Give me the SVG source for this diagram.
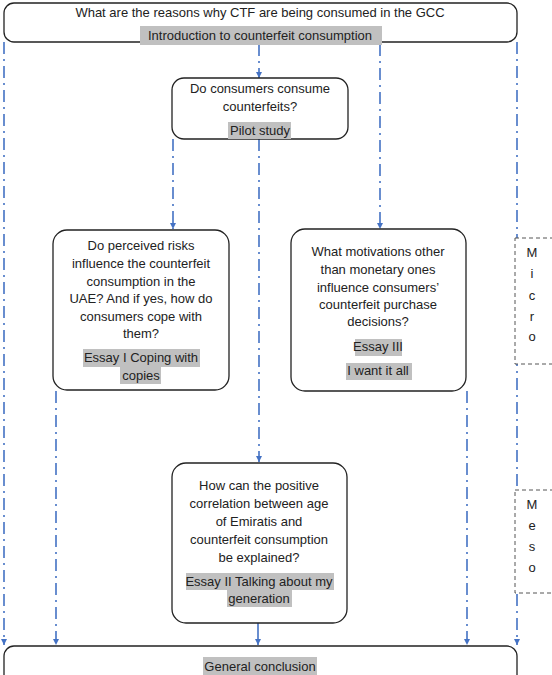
<svg xmlns="http://www.w3.org/2000/svg" width="552" height="675" viewBox="0 0 552 675">
<defs>
<style>
text{font-family:"Liberation Sans",Arial,sans-serif;font-size:13px;fill:#222;text-anchor:middle}
.box{fill:#fff;stroke:#222;stroke-width:1.3}
.hl{fill:#c0c0c0}
.dd{stroke:#4472C4;stroke-width:1.6;fill:none;stroke-dasharray:12 5 2 5}
.sl{stroke:#4472C4;stroke-width:1.6;fill:none}
.side{fill:#fff;stroke:#555;stroke-width:1;stroke-dasharray:4 3}
</style>
<marker id="ah" viewBox="0 0 10 10" refX="10" refY="5" markerWidth="6" markerHeight="6" orient="auto" markerUnits="userSpaceOnUse"><path d="M0,0 L10,5 L0,10 z" fill="#4472C4"/></marker>
</defs>
<g id="connectors">
<line class="dd" x1="4" y1="42" x2="4" y2="645" marker-end="url(#ah)"/>
<line class="dd" x1="517" y1="42" x2="517" y2="645" marker-end="url(#ah)"/>
<line class="dd" x1="259" y1="44" x2="259" y2="78" marker-end="url(#ah)"/>
<line class="dd" x1="380" y1="44" x2="380" y2="229" marker-end="url(#ah)"/>
<line class="dd" x1="173" y1="139" x2="173" y2="229" marker-end="url(#ah)"/>
<line class="dd" x1="259" y1="139" x2="259" y2="462" marker-end="url(#ah)"/>
<line class="dd" x1="56" y1="391" x2="56" y2="645" marker-end="url(#ah)"/>
<line class="dd" x1="467" y1="391" x2="467" y2="645" marker-end="url(#ah)"/>
<line class="sl" x1="258" y1="623" x2="258" y2="645" marker-end="url(#ah)"/>
</g>
<g id="top">
<rect class="box" x="4" y="3" width="513" height="39" rx="10"/>
<text x="260" y="17">What are the reasons why CTF are being consumed in the GCC</text>
<rect class="hl" x="140" y="26" width="242" height="19"/>
<text x="260" y="40">Introduction to counterfeit consumption</text>
</g>
<g id="pilot">
<rect class="box" x="172" y="78" width="176" height="61" rx="12"/>
<text x="260" y="93">Do consumers consume</text>
<text x="260" y="111">counterfeits?</text>
<rect class="hl" x="228" y="122" width="63" height="17"/>
<text x="260" y="135">Pilot study</text>
</g>
<g id="essay1">
<rect class="box" x="53" y="230" width="176" height="160" rx="14"/>
<text x="141" y="250">Do perceived risks</text>
<text x="141" y="268">influence the counterfeit</text>
<text x="141" y="286">consumption in  the</text>
<text x="141" y="303">UAE? And if yes, how do</text>
<text x="141" y="321">consumers cope with</text>
<text x="141" y="338">them?</text>
<rect class="hl" x="83" y="349" width="117" height="18"/>
<rect class="hl" x="120" y="367" width="41" height="17"/>
<text x="141" y="362">Essay I Coping with</text>
<text x="141" y="380">copies</text>
</g>
<g id="essay3">
<rect class="box" x="291" y="229" width="175" height="162" rx="14"/>
<text x="378" y="256">What motivations other</text>
<text x="378" y="274">than monetary ones</text>
<text x="378" y="292">influence consumers’</text>
<text x="378" y="309">counterfeit purchase</text>
<text x="378" y="326">decisions?</text>
<rect class="hl" x="355" y="339" width="47" height="17"/>
<text x="378" y="351">Essay III</text>
<rect class="hl" x="346" y="363" width="66" height="17"/>
<text x="378" y="375">I want it all</text>
</g>
<g id="essay2">
<rect class="box" x="172" y="463" width="175" height="160" rx="14"/>
<text x="259" y="490">How can the positive</text>
<text x="259" y="508">correlation between age</text>
<text x="259" y="526">of Emiratis and</text>
<text x="259" y="544">counterfeit consumption</text>
<text x="259" y="562">be explained?</text>
<rect class="hl" x="186" y="573" width="148" height="17"/>
<rect class="hl" x="227" y="590" width="65" height="17"/>
<text x="259" y="586">Essay II Talking about my</text>
<text x="259" y="603">generation</text>
</g>
<g id="conclusion">
<rect class="box" x="4" y="646" width="513" height="60" rx="10"/>
<rect class="hl" x="203" y="657" width="114" height="18"/>
<text x="260" y="671">General conclusion</text>
</g>
<g id="micro">
<rect class="side" x="515" y="238" width="40" height="126"/>
<text x="532" y="257">M</text>
<text x="532" y="278">i</text>
<text x="532" y="300">c</text>
<text x="532" y="321">r</text>
<text x="532" y="341">o</text>
</g>
<g id="meso">
<rect class="side" x="515" y="490" width="40" height="103"/>
<text x="532" y="509">M</text>
<text x="532" y="530">e</text>
<text x="532" y="551">s</text>
<text x="532" y="572">o</text>
</g>
</svg>
